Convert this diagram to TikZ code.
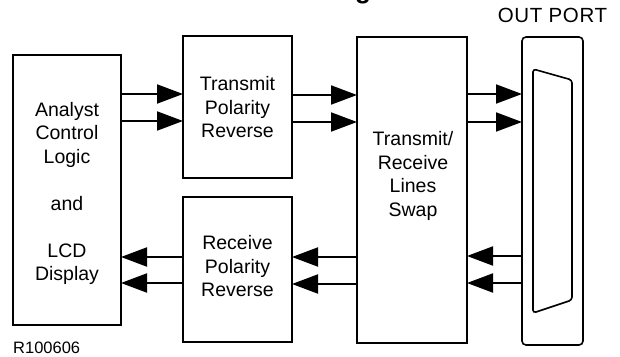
\documentclass[tikz,border=0pt]{standalone}
\usepackage{fontspec}
\setmainfont{Liberation Sans}
\usetikzlibrary{arrows.meta}
\begin{document}
\begin{tikzpicture}[x=1pt,y=-1pt,
  box/.style={draw,line width=1.6pt,inner sep=0pt,outer sep=0pt},
  lbl/.style={align=center,font=\fontsize{19.5}{23.5}\selectfont,inner sep=0pt},
  sig/.style={line width=2pt,-{Triangle[length=26pt,width=19pt]}}]
\useasboundingbox (0,0) rectangle (620,356);
\begin{scope}
  \clip (0,0) rectangle (620,356);
  \node[anchor=base,font=\fontsize{26}{26}\selectfont\bfseries,inner sep=0pt] (title) at (363,-1.5) {g};
\end{scope}
% boxes
\node[box,minimum width=108pt,minimum height=270pt] (acl) at (67,190) {};
\node[box,minimum width=109pt,minimum height=142pt] (tpr) at (237.5,107) {};
\node[box,minimum width=109pt,minimum height=145pt] (rpr) at (237.5,269.5) {};
\node[box,minimum width=110pt,minimum height=306pt] (swap) at (412,190) {};
\node[box,rounded corners=4pt,minimum width=61pt,minimum height=308pt] (port) at (552.5,191) {};
\draw[line width=1.6pt,rounded corners=3pt] (533,69) -- (572,80) -- (572,300) -- (533,313) -- cycle;
% labels
\node[lbl] (acltxt) at (67,193.5) {Analyst\\Control\\Logic\\[23.5pt]and\\[23.5pt]LCD\\Display};
\node[lbl] (tprtxt) at (237.5,107.5) {Transmit\\Polarity\\Reverse};
\node[lbl] (rprtxt) at (237.5,266.5) {Receive\\Polarity\\Reverse};
\node[lbl] (swaptxt) at (413,176) {Transmit/\\Receive\\Lines\\Swap};
\node[anchor=base,inner sep=0pt,font=\fontsize{20.5}{22}\selectfont] (porttxt) at (552.5,22) {\addfontfeature{LetterSpace=3}OUT PORT};
\node[anchor=base west,inner sep=0pt,font=\fontsize{16.5}{18}\selectfont] (ref) at (13,353) {R100606};
% signals
\draw[sig] (acl.east |- 0,94) -- (tpr.west |- 0,94);
\draw[sig] (acl.east |- 0,121) -- (tpr.west |- 0,121);
\draw[sig] (tpr.east |- 0,95) -- (swap.west |- 0,95);
\draw[sig] (tpr.east |- 0,122) -- (swap.west |- 0,122);
\draw[sig] (swap.east |- 0,94) -- (port.west |- 0,94);
\draw[sig] (swap.east |- 0,122) -- (port.west |- 0,122);
\draw[sig] (port.west |- 0,256) -- (swap.east |- 0,256);
\draw[sig] (port.west |- 0,283) -- (swap.east |- 0,283);
\draw[sig] (swap.west |- 0,257) -- (rpr.east |- 0,257);
\draw[sig] (swap.west |- 0,284) -- (rpr.east |- 0,284);
\draw[sig] (rpr.west |- 0,257) -- (acl.east |- 0,257);
\draw[sig] (rpr.west |- 0,283) -- (acl.east |- 0,283);
\end{tikzpicture}
\end{document}
